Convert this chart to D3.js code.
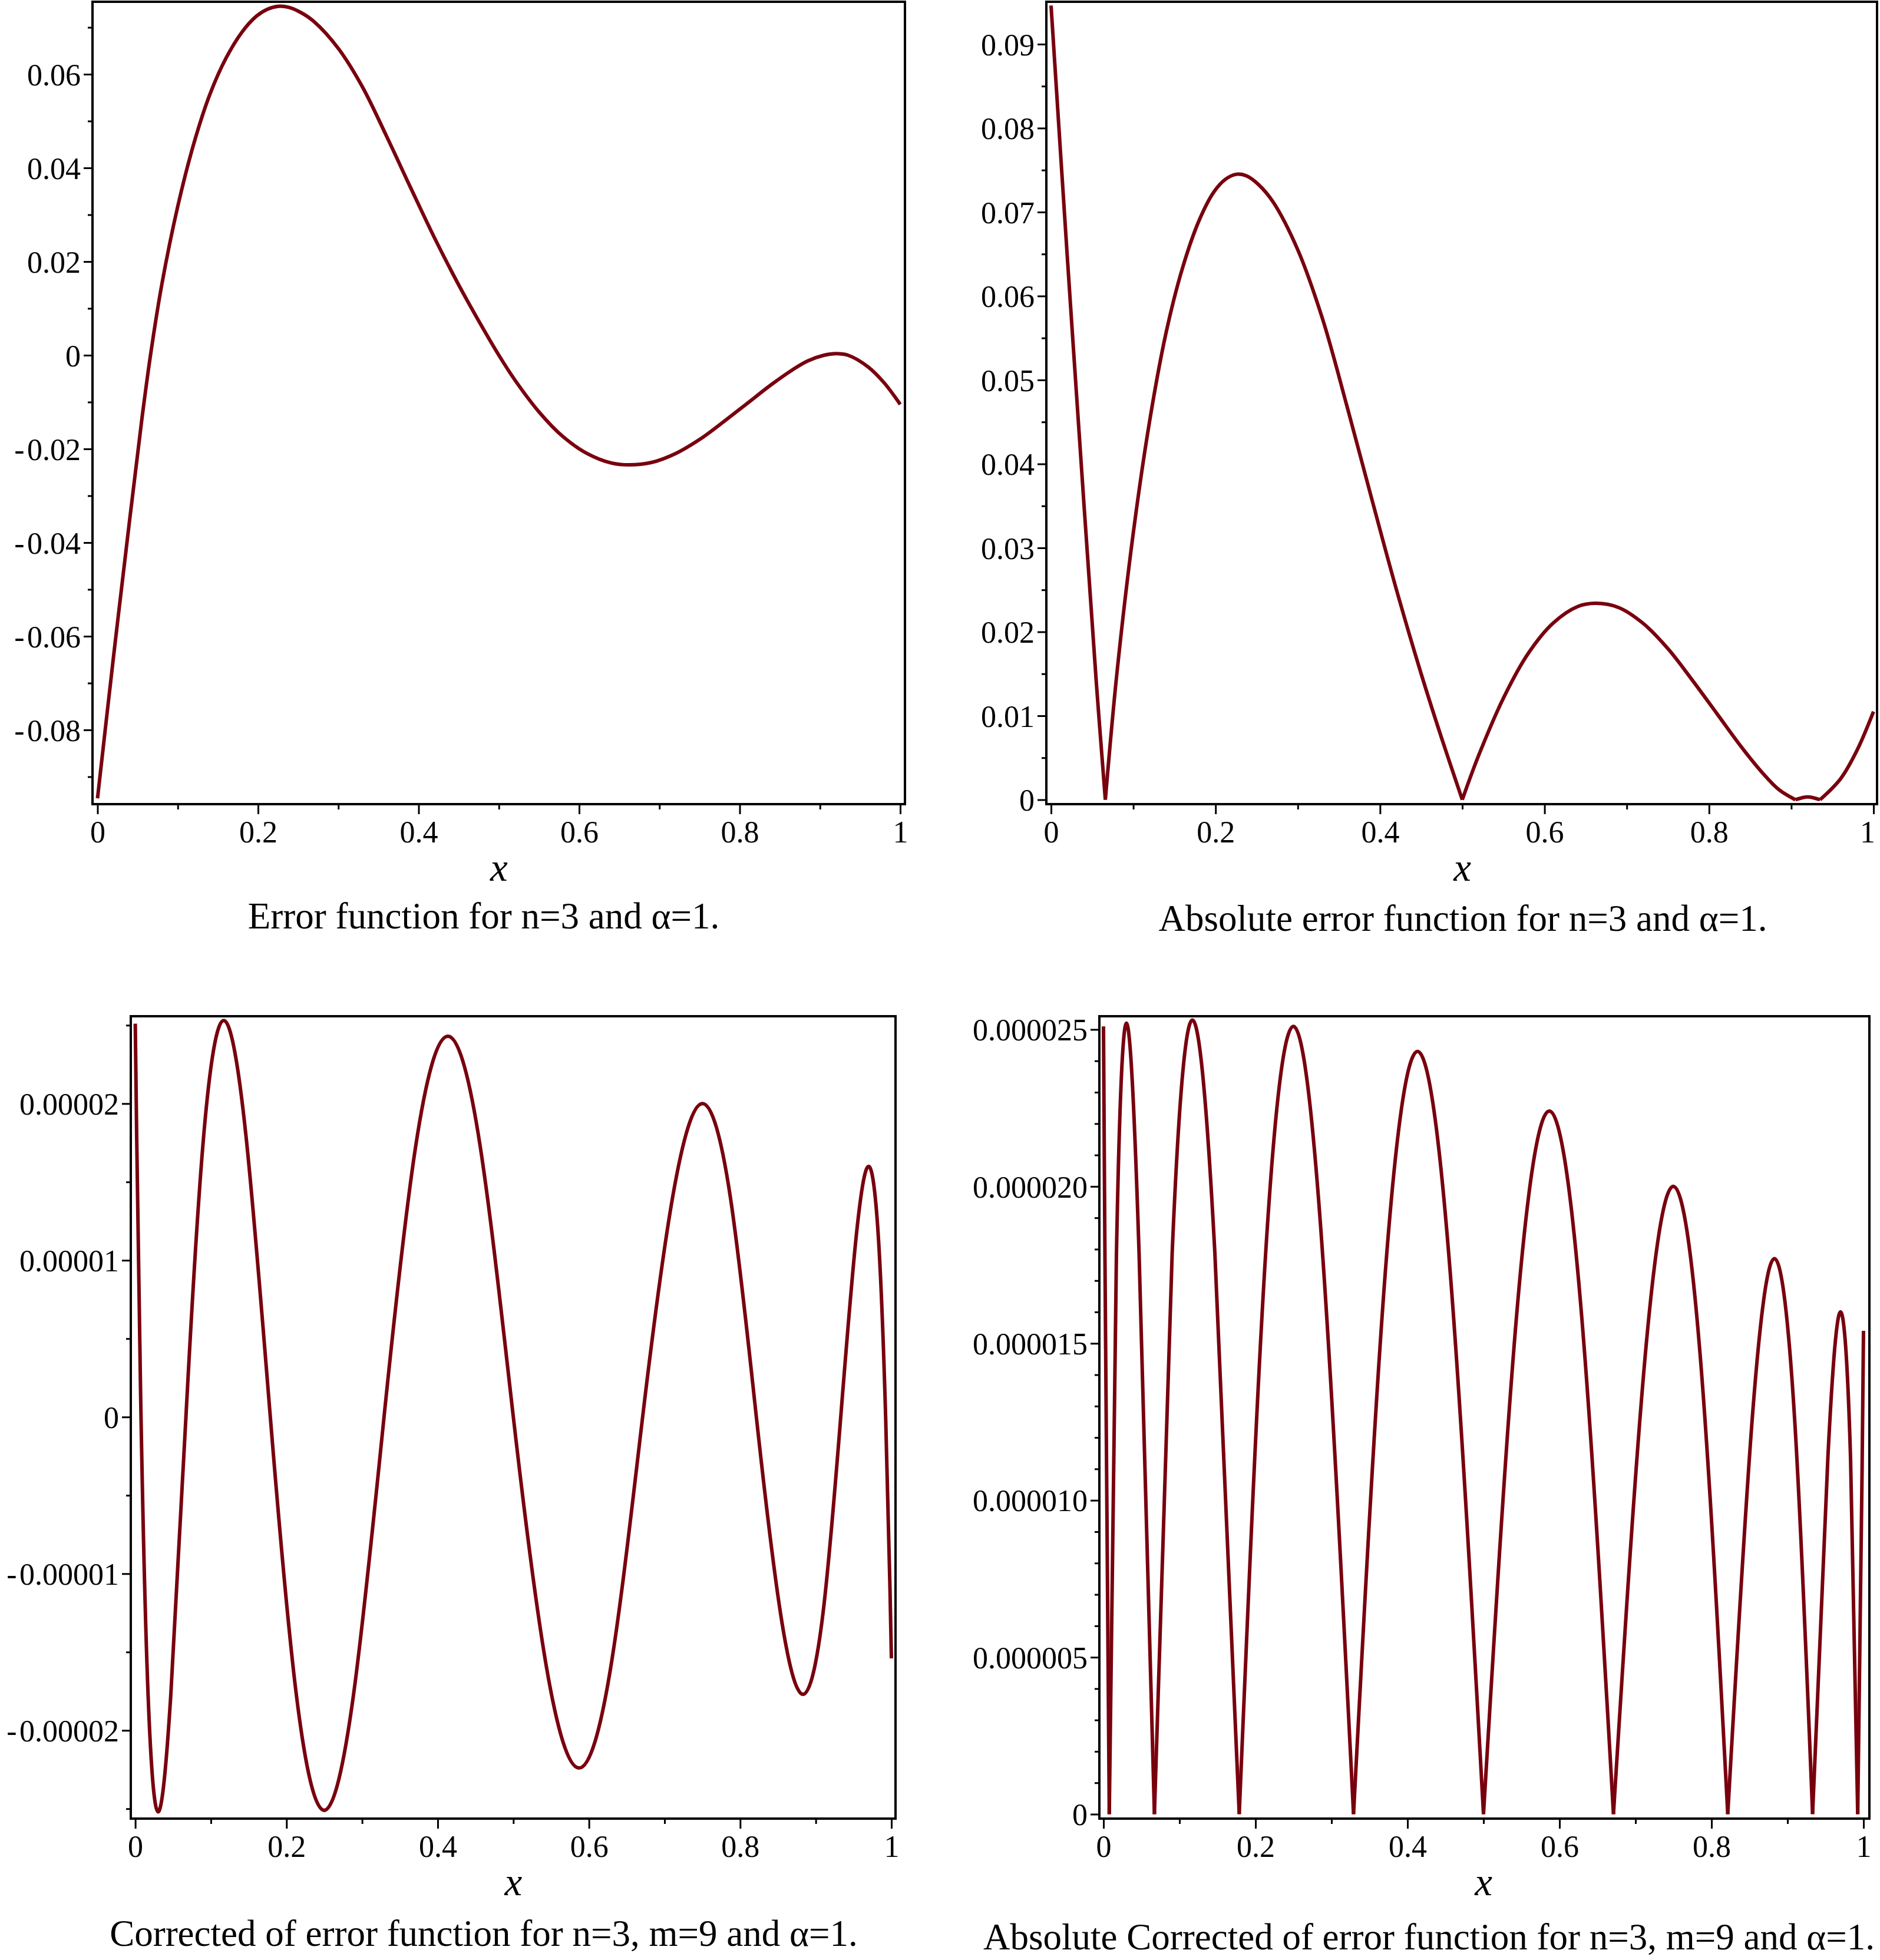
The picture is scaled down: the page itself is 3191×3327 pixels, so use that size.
<!DOCTYPE html>
<html><head><meta charset="utf-8">
<script src="https://cdn.jsdelivr.net/npm/d3@7"></script>
<style>
html,body{margin:0;padding:0;background:#fff;}
svg{display:block;}
text{font-family:"Liberation Serif","Times New Roman",serif;fill:#000;}
</style></head><body>
<svg id="chart" width="3191" height="3327"></svg>
<script>
// ---------- data ----------
// Error function for n=3 and alpha=1 (signed)
const errX = [0, 0.02, 0.04, 0.055, 0.066, 0.08, 0.10, 0.12, 0.14, 0.16, 0.18, 0.198, 0.212, 0.225, 0.238, 0.252, 0.27, 0.30, 0.33, 0.36, 0.39, 0.42, 0.45, 0.475, 0.5, 0.52, 0.55, 0.58, 0.61, 0.64, 0.662, 0.69, 0.72, 0.75, 0.78, 0.81, 0.84, 0.865, 0.885, 0.905, 0.92, 0.935, 0.96, 0.98, 1.0];
const errY = [-0.0946, -0.0643, -0.0352, -0.0140, 0, 0.0150, 0.0318, 0.0452, 0.0557, 0.0634, 0.0690, 0.0724, 0.0739, 0.0745, 0.0743, 0.0733, 0.0712, 0.0655, 0.0573, 0.0468, 0.0358, 0.0250, 0.0150, 0.0073, 0, -0.0053, -0.0121, -0.0174, -0.0210, -0.0230, -0.0234, -0.0229, -0.0210, -0.0180, -0.0142, -0.0102, -0.0062, -0.0032, -0.0012, 0, 0.00034, 0, -0.0025, -0.0059, -0.0105];

// Corrected error function for n=3, m=9 and alpha=1 (signed)
const corrX = [0, 0.0019, 0.0076, 0.0170, 0.0302, 0.0469, 0.0670, 0.0904, 0.1170, 0.1465, 0.1786, 0.2132, 0.2500, 0.2887, 0.3290, 0.3706, 0.4132, 0.4564, 0.5000, 0.5436, 0.5868, 0.6294, 0.6710, 0.7113, 0.7500, 0.7868, 0.8214, 0.8536, 0.8830, 0.9096, 0.9330, 0.9532, 0.9699, 0.9830, 0.9924, 0.9981, 1.0];
const corrY = [2.51e-5, 1.78e-5, 0, -1.78e-5, -2.52e-5, -1.78e-5, 0, 1.79e-5, 2.53e-5, 1.79e-5, 0, -1.78e-5, -2.51e-5, -1.77e-5, 0, 1.72e-5, 2.43e-5, 1.72e-5, 0, -1.59e-5, -2.24e-5, -1.58e-5, 0, 1.42e-5, 2.00e-5, 1.41e-5, 0, -1.26e-5, -1.77e-5, -1.25e-5, 0, 1.14e-5, 1.60e-5, 1.13e-5, 0, -1.09e-5, -1.54e-5];

// ---------- ticks ----------
const xTicks = [0, 0.2, 0.4, 0.6, 0.8, 1];
const xTickLabels = ["0", "0.2", "0.4", "0.6", "0.8", "1"];
const xMinorTicks = [0.1, 0.3, 0.5, 0.7, 0.9];

const errTicks = [-0.08, -0.06, -0.04, -0.02, 0, 0.02, 0.04, 0.06];
const errTickLabels = ["-\u200A0.08", "-\u200A0.06", "-\u200A0.04", "-\u200A0.02", "0", "0.02", "0.04", "0.06"];
const errMinor = [-0.09, -0.07, -0.05, -0.03, -0.01, 0.01, 0.03, 0.05, 0.07];

const absErrTicks = [0, 0.01, 0.02, 0.03, 0.04, 0.05, 0.06, 0.07, 0.08, 0.09];
const absErrTickLabels = ["0", "0.01", "0.02", "0.03", "0.04", "0.05", "0.06", "0.07", "0.08", "0.09"];
const absErrMinor = [0.005, 0.015, 0.025, 0.035, 0.045, 0.055, 0.065, 0.075, 0.085];

const corrTicks = [-0.00002, -0.00001, 0, 0.00001, 0.00002];
const corrTickLabels = ["-\u200A0.00002", "-\u200A0.00001", "0", "0.00001", "0.00002"];
const corrMinor = [-0.000025, -0.000015, -0.000005, 0.000005, 0.000015, 0.000025];

const absCorrTicks = [0, 0.000005, 0.00001, 0.000015, 0.00002, 0.000025];
const absCorrTickLabels = ["0", "0.000005", "0.000010", "0.000015", "0.000020", "0.000025"];
const absCorrMinor = [0.000001, 0.000002, 0.000003, 0.000004, 0.000006, 0.000007, 0.000008, 0.000009, 0.000011, 0.000012, 0.000013, 0.000014, 0.000016, 0.000017, 0.000018, 0.000019, 0.000021, 0.000022, 0.000023, 0.000024];

const captions = [
  "Error function for n=3 and \u03B1=1.",
  "Absolute error function for n=3 and \u03B1=1.",
  "Corrected of error function for n=3, m=9 and \u03B1=1.",
  "Absolute Corrected of error function for n=3, m=9 and \u03B1=1."
];
const axisTitle = "x";

// ---------- layout ----------
const COLOR = "#78000E";
const W = 3191, H = 3327;
const smooth = d3.curveCatmullRom.alpha(0.5);
const panels = [
  {xs: errX, ys: errY, abs: false, curve: smooth, L: 157, R: 1536, T: 3, B: 1365, x0: 165.5, x1: 1528, yDom: [-0.09585, 0.07547],
   yT: errTicks, yL: errTickLabels, yM: errMinor, cap: captions[0], capX: 821, capY: 1576, capAnchor: "middle"},
  {xs: errX, ys: errY, abs: true, curve: smooth, L: 1776, R: 3186, T: 3, B: 1365, x0: 1784, x1: 3180, yDom: [-0.000526, 0.09505],
   yT: absErrTicks, yL: absErrTickLabels, yM: absErrMinor, cap: captions[1], capX: 2483, capY: 1580, capAnchor: "middle"},
  {xs: corrX, ys: corrY, abs: false, curve: d3.curveNatural, L: 222, R: 1520, T: 1725, B: 3087, x0: 229.6, x1: 1513, yDom: [-2.563e-5, 2.5575e-5],
   yT: corrTicks, yL: corrTickLabels, yM: corrMinor, cap: captions[2], capX: 821, capY: 3303, capAnchor: "middle"},
  {xs: corrX, ys: corrY, abs: true, curve: d3.curveNatural, L: 1866, R: 3173, T: 1725, B: 3087, x0: 1873, x1: 3163, yDom: [-1.41e-7, 2.5422e-5],
   yT: absCorrTicks, yL: absCorrTickLabels, yM: absCorrMinor, cap: captions[3], capX: 3182, capY: 3309, capAnchor: "end"}
];

const svg = d3.select("#chart");
svg.append("rect").attr("width", W).attr("height", H).attr("fill", "#fff");

function styleAxis(sel, fontSize) {
  sel.select(".domain").remove();
  sel.selectAll(".tick line").attr("stroke", "#000").attr("stroke-width", 3);
  sel.selectAll(".tick text").attr("font-size", fontSize)
    .attr("font-family", "'Liberation Serif','Times New Roman',serif").attr("fill", "#000");
}

panels.forEach(p => {
  const g = svg.append("g");
  const x = d3.scaleLinear().domain([0, 1]).range([p.x0, p.x1]);
  const y = d3.scaleLinear().domain(p.yDom).range([p.B, p.T]);

  const pts = p.xs.map((d, i) => [d, p.abs ? Math.abs(p.ys[i]) : p.ys[i]]);
  let segs = [pts];
  if (p.abs) {
    segs = [];
    let cur = [];
    pts.forEach((d, i) => {
      cur.push(d);
      if (d[1] === 0 && i > 0 && i < pts.length - 1) { segs.push(cur); cur = [d]; }
    });
    if (cur.length > 1) segs.push(cur);
  }
  const line = d3.line().x(d => x(d[0])).y(d => y(d[1])).curve(p.curve);
  segs.forEach(s => {
    g.append("path").attr("d", line(s)).attr("fill", "none").attr("stroke", COLOR)
      .attr("stroke-width", 6).attr("stroke-linejoin", "round").attr("stroke-linecap", "butt");
  });

  // frame
  g.append("rect").attr("x", p.L).attr("y", p.T).attr("width", p.R - p.L).attr("height", p.B - p.T)
    .attr("fill", "none").attr("stroke", "#000").attr("stroke-width", 4);

  // y axis
  const ya = g.append("g").attr("transform", `translate(${p.L - 2},0)`)
    .call(d3.axisLeft(y).tickValues(p.yT).tickFormat((d, i) => p.yL[i]).tickSize(13).tickPadding(5));
  styleAxis(ya, 52);
  ya.selectAll(".tick text").attr("dy", "0.35em");
  const ym = g.append("g").attr("transform", `translate(${p.L - 2},0)`)
    .call(d3.axisLeft(y).tickValues(p.yM).tickFormat("").tickSize(6));
  styleAxis(ym, 52);

  // x axis
  const xa = g.append("g").attr("transform", `translate(0,${p.B + 2})`)
    .call(d3.axisBottom(x).tickValues(xTicks).tickFormat((d, i) => xTickLabels[i]).tickSize(15).tickPadding(11));
  styleAxis(xa, 52);
  const xm = g.append("g").attr("transform", `translate(0,${p.B + 2})`)
    .call(d3.axisBottom(x).tickValues(xMinorTicks).tickFormat("").tickSize(7));
  styleAxis(xm, 52);

  // axis title (italic)
  g.append("text").attr("x", (p.x0 + p.x1) / 2).attr("y", p.B + 130)
    .attr("text-anchor", "middle")
    .style("font-family", "'Liberation Serif','Times New Roman',serif")
    .style("font-style", "italic").attr("font-size", 67).text(axisTitle);

  // caption
  g.append("text").attr("class", "caption").attr("x", p.capX).attr("y", p.capY).attr("text-anchor", p.capAnchor)
    .attr("font-size", 63).text(p.cap);
});

// keep every text inside the picture
svg.selectAll("text").each(function () {
  const r = this.getBoundingClientRect();
  if (r.right > W - 8) {
    this.setAttribute("x", +(this.getAttribute("x") || 0) - (r.right - (W - 8)));
  }
  if (r.bottom > H - 2) {
    this.setAttribute("y", +(this.getAttribute("y") || 0) - (r.bottom - (H - 2)));
  }
});
</script>
</body></html>
